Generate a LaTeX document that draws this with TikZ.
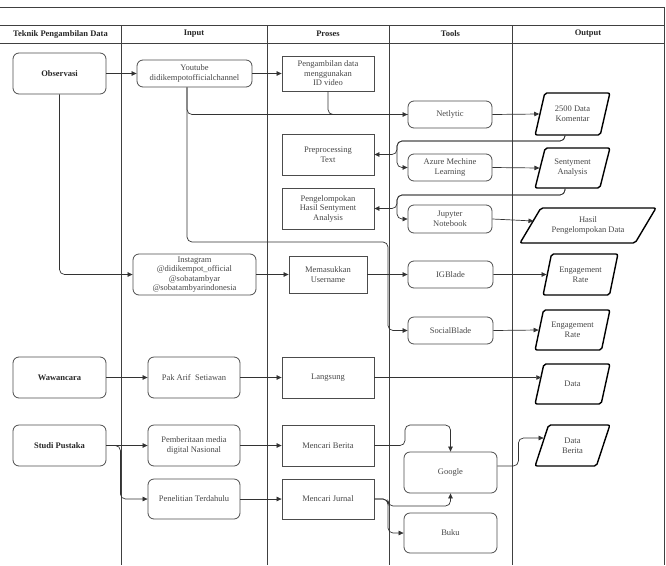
\documentclass[tikz,border=0pt]{standalone}
\usepackage{fontspec}
\setmainfont{Liberation Serif}
\usetikzlibrary{shapes.geometric,arrows.meta}

\begin{document}
\begin{tikzpicture}[x=1pt,y=-1pt,
    font=\fontsize{8.5}{10}\selectfont,
    garis/.style={draw=black!75,line width=0.8pt},
    judul/.style={font=\fontsize{8.5}{10}\selectfont\bfseries,text=black!85},
    kotak/.style={draw=black!70,line width=0.8pt,text=black!72,align=center,minimum width=92pt,minimum height=41pt,inner sep=1pt},
    bulat/.style={kotak,rounded corners=6pt},
    tebal/.style={bulat,font=\fontsize{8.5}{10}\selectfont\bfseries,text=black!85},
    miring/.style={trapezium,trapezium left angle=70,trapezium right angle=110,trapezium stretches=true,draw=black,line width=1.4pt,rounded corners=2pt,text=black!72,align=center,minimum width=75pt,minimum height=41pt,inner sep=1pt},
    panah/.style={draw=black!80,line width=0.7pt,rounded corners=5pt,-{Triangle[length=5pt,width=4.5pt]}},
    sambung/.style={draw=black!80,line width=0.7pt,rounded corners=5pt}
]
    \useasboundingbox (0,0) rectangle (666,565);
    \draw[garis] (0,7) -- (664,7) -- (664,565);
    \draw[garis] (0,25) -- (664,25);
    \draw[garis] (0,43) -- (664,43);
    \foreach \x in {121,267,389,512}
        \draw[garis] (\x,25) -- (\x,565);

    \node (hteknik) at (60.5,34) [judul] {Teknik Pengambilan Data};
    \node (hinput) at (194,34) [judul] {Input};
    \node (hproses) at (328,34) [judul] {Proses};
    \node (htools) at (450.5,34) [judul] {Tools};
    \node (houtput) at (588,34) [judul] {Output};

    \node (obs) at (59.5,73.5) [tebal,minimum width=93pt] {Observasi};
    \node (yt) at (194.5,73.5) [bulat,minimum width=115pt,minimum height=27pt] {Youtube\\didikempotofficialchannel};
    \node (ambil) at (328,73.5) [kotak,minimum height=35pt,font=\fontsize{8.5}{9.5}\selectfont] {Pengambilan data\\menggunakan\\ID video};
    \node (netly) at (450,114.5) [bulat,minimum width=84pt,minimum height=27pt] {Netlytic};
    \node (komen) at (572.5,114) [miring,minimum height=42pt] {2500 Data\\Komentar};
    \node (prep) at (328,154.5) [kotak] {Preprocessing\\Text};
    \node (azure) at (450,167.5) [bulat,minimum width=84pt,minimum height=27pt] {Azure Mechine\\Learning};
    \node (senty) at (572.5,168) [miring,minimum height=40pt] {Sentyment\\Analysis};
    \node (kelompok) at (328,208.5) [kotak,font=\fontsize{8.5}{9.5}\selectfont] {Pengelompokan\\Hasil Sentyment\\Analysis};
    \node (jupy) at (450,219) [bulat,minimum width=84pt,minimum height=28pt] {Jupyter\\Notebook};
    \node (hasil) at (588,225.5) [miring,trapezium left angle=50,trapezium right angle=130,minimum width=136pt,minimum height=35pt] {Hasil\\Pengelompokan Data};

    \node (ig) at (194.5,274.5) [bulat,minimum width=123pt,font=\fontsize{8.5}{9.3}\selectfont] {Instagram\\@didikempot\_official\\@sobatambyar\\@sobatambyarindonesia};
    \node (user) at (328,274.5) [kotak,minimum width=78pt,minimum height=37pt] {Memasukkan\\Username};
    \node (igb) at (450.5,274.5) [bulat,minimum width=85pt,minimum height=27pt] {IGBlade};
    \node (eng1) at (580.5,274.5) [miring] {Engagement\\Rate};
    \node (sblade) at (450.5,330.5) [bulat,minimum width=85pt,minimum height=27pt] {SocialBlade};
    \node (eng2) at (572.5,330) [miring,minimum height=40pt] {Engagement\\Rate};

    \node (waw) at (59.5,377.5) [tebal,minimum width=93pt] {Wawancara};
    \node (arif) at (194,377.5) [bulat] {Pak Arif~ Setiawan};
    \node (lang) at (328,377.5) [kotak] {Langsung};
    \node (data) at (572.5,384) [miring,minimum height=40pt] {Data};

    \node (studi) at (59.5,445.5) [tebal,minimum width=93pt] {Studi Pustaka};
    \node (berita) at (194,445.5) [bulat] {Pemberitaan media\\digital Nasional};
    \node (cberita) at (328,445.5) [kotak] {Mencari Berita};
    \node (dberita) at (572.5,445.5) [miring] {Data\\Berita};
    \node (teliti) at (194,499) [bulat,minimum height=40pt] {Penelitian Terdahulu};
    \node (cjurnal) at (328,499) [kotak,minimum height=40pt] {Mencari Jurnal};
    \node (google) at (450.5,472.5) [bulat,minimum width=93pt] {Google};
    \node (buku) at (450.5,533) [bulat,minimum width=93pt,minimum height=40pt] {Buku};

    \coordinate (k1) at (397,141);
    \coordinate (s1) at (397,195);
    \coordinate (sb) at (388,242);
    \coordinate (g1) at (405,425);
    \coordinate (j1) at (388,506);

    \draw[panah] (obs.east) -- (yt.west);
    \draw[panah] (yt.east) -- (ambil.west);
    \draw[panah] ([xshift=-7.5pt]yt.south) |- (netly.west);
    \draw[sambung] (ambil.south) |- (netly.west);
    \draw[panah] ([xshift=-7.5pt]yt.south) |- (sb) |- (sblade.west);
    \draw[panah] (netly.east) -- (komen.west);
    \draw[panah] ([xshift=-7.5pt]komen.south) |- (k1) |- (prep.east);
    \draw[panah] ([xshift=-7.5pt]komen.south) |- (k1) |- (azure.west);
    \draw[panah] (azure.east) -- (senty.west);
    \draw[panah] ([xshift=-7.5pt]senty.south) |- (s1) |- (kelompok.east);
    \draw[panah] ([xshift=-7.5pt]senty.south) |- (s1) |- (jupy.west);
    \draw[panah] (jupy.east) -- ([xshift=3.8pt,yshift=4.5pt]hasil.west);

    \draw[panah] (obs.south) |- (ig.west);
    \draw[panah] (ig.east) -- (user.west);
    \draw[panah] (user.east) -- (igb.west);
    \draw[panah] (igb.east) -- (eng1.west);
    \draw[panah] (sblade.east) -- (eng2.west);

    \draw[panah] (waw.east) -- (arif.west);
    \draw[panah] (arif.east) -- (lang.west);
    \draw[panah] (lang.east) -- ([xshift=2.5pt]lang.east -| data.west);

    \draw[panah] (studi.east) -- (berita.west);
    \draw[panah] (studi.east) -- ++(14,0) |- (teliti.west);
    \draw[panah] (berita.east) -- (cberita.west);
    \draw[panah] (teliti.east) -- (cjurnal.west);
    \draw[panah] (cberita.east) -| (g1) -| (google.north);
    \draw[panah] (cjurnal.east) -| (j1) -| (google.south);
    \draw[panah] (cjurnal.east) -| (j1) |- (buku.west);
    \draw[panah] ([yshift=6.5pt]google.east) -- ++(21,0) |- ([xshift=2.5pt,yshift=7.5pt]dberita.west);
\end{tikzpicture}
\end{document}
